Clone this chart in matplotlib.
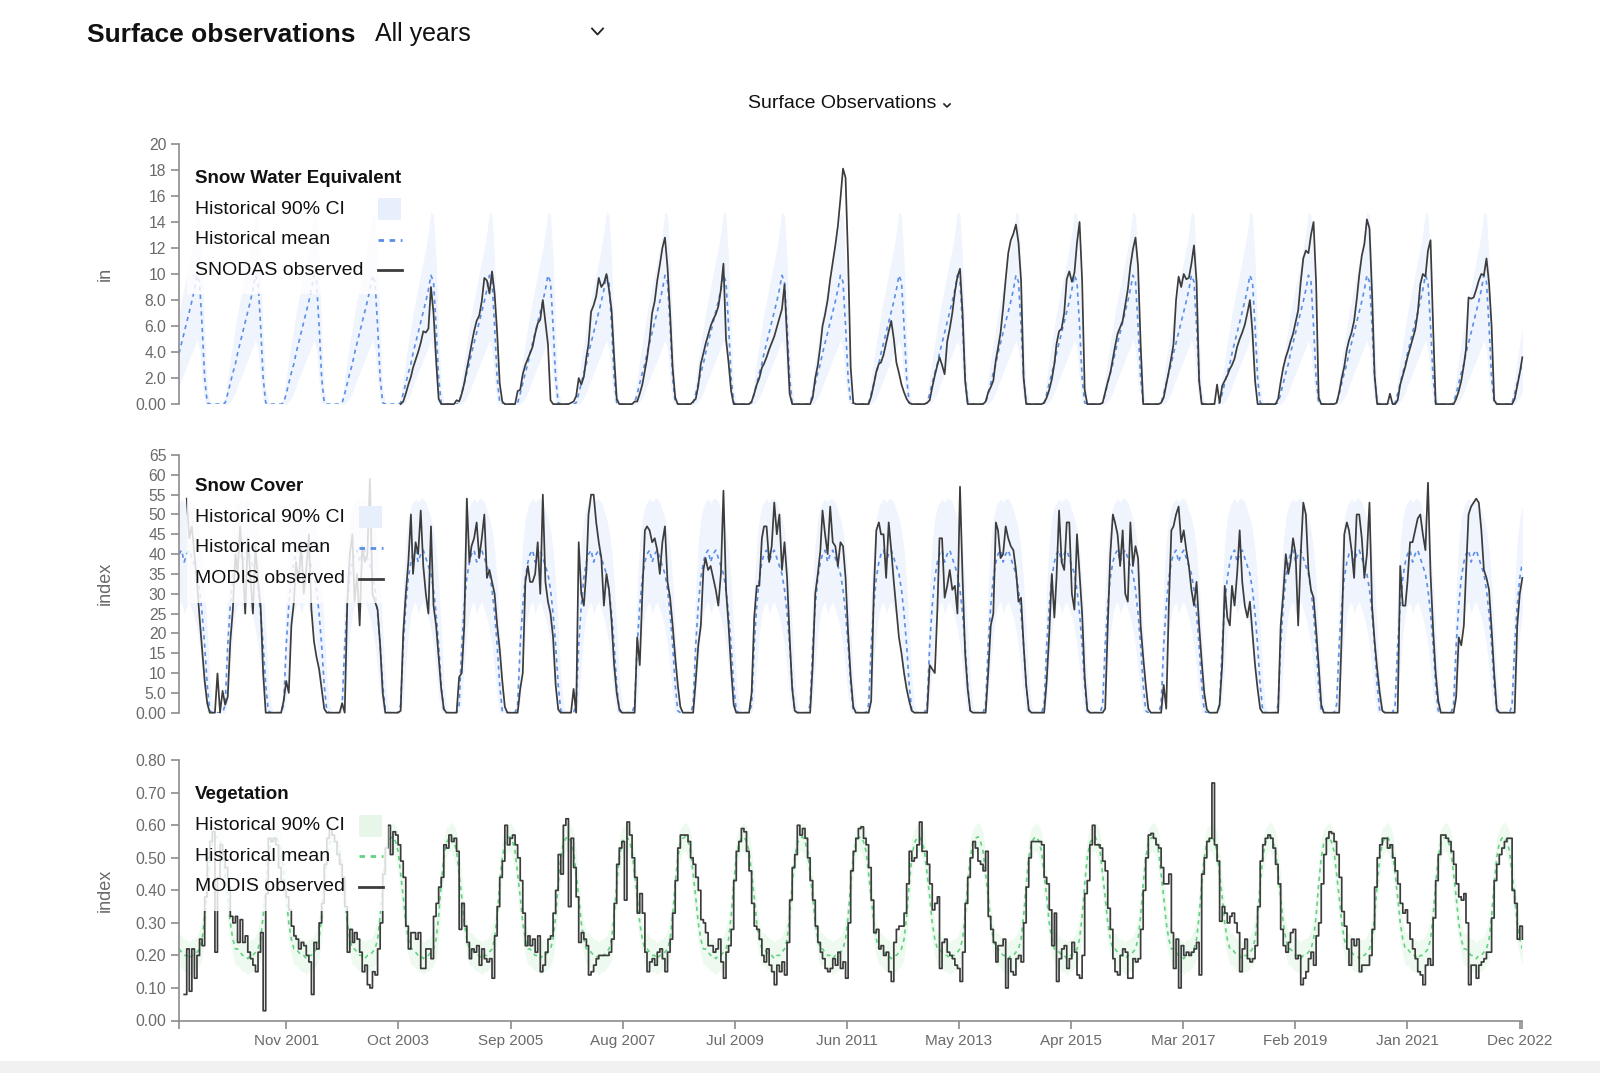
import datetime
import numpy as np
import matplotlib.pyplot as plt
from matplotlib.patches import Rectangle
from matplotlib.lines import Line2D

plt.rcParams['font.family'] = ['Liberation Sans', 'DejaVu Sans']

nan = np.nan

# 16-day composite steps, day of year 1, 17, ..., 353
step_doy = np.arange(0, 365, 16)

# ---- Snow Water Equivalent (in) ----
swe_mean = [3.9, 4.7, 5.5, 6.3, 7.1, 7.9, 8.8, 9.9, 9.4, 6.0, 2.0, 0.1, 0, 0, 0, 0, 0, 0, 0.1, 0.8, 1.6, 2.4, 3.1]
swe_lo = [1.4, 1.9, 2.4, 2.9, 3.4, 3.9, 4.4, 4.9, 4.2, 1.8, 0.2, 0, 0, 0, 0, 0, 0, 0, 0, 0, 0.2, 0.5, 0.9]
swe_hi = [7.0, 8.0, 9.0, 10.0, 11.0, 12.0, 13.2, 14.8, 14.5, 11.0, 5.5, 1.2, 0.2, 0, 0, 0, 0, 0, 0.5, 2.0, 3.4, 4.7, 5.9]

swe_years = list(range(2003, 2023))
swe_obs = [
    [nan] * 18 + [0, 0.2, 0.8, 1.5, 2.1],
    [2.8, 3.4, 4.0, 4.7, 5.6, 5.5, 5.8, 9.0, 7.0, 3.4, 0.4, 0, 0, 0, 0, 0, 0, 0.3, 0.2, 0.8, 1.6, 2.7, 3.7],
    [4.6, 5.6, 6.4, 6.8, 7.9, 9.7, 9.5, 8.5, 10.2, 8.5, 5.5, 1.6, 0.2, 0, 0, 0, 0, 0, 1.0, 1.1, 2.3, 3.0, 3.5],
    [3.9, 4.4, 5.4, 6.2, 6.5, 8.0, 6.3, 4.6, 0.3, 0, 0, 0, 0, 0, 0, 0, 0.1, 0.2, 0.6, 2.0, 1.5, 2.1, 3.6],
    [4.6, 7.1, 7.6, 8.3, 9.7, 9.0, 9.3, 10.0, 8.8, 7.2, 3.6, 0.4, 0, 0, 0, 0, 0, 0, 0.2, 0.2, 0.8, 1.5, 2.6],
    [3.5, 5.0, 7.0, 7.9, 9.5, 10.7, 12.0, 12.8, 10.5, 7.0, 2.8, 0.5, 0, 0, 0, 0, 0, 0, 0.2, 0.4, 1.4, 3.1, 3.9],
    [4.6, 5.3, 6.0, 6.5, 6.9, 7.5, 8.8, 10.8, 5.0, 3.2, 1.0, 0, 0, 0, 0, 0, 0, 0, 0.2, 0.8, 1.5, 2.0, 2.8],
    [3.1, 3.6, 4.2, 4.7, 5.2, 5.9, 6.6, 7.3, 9.2, 5.0, 0.8, 0, 0, 0, 0, 0, 0, 0, 0, 0.5, 2.0, 3.0, 4.5],
    [6.0, 6.9, 8.0, 9.6, 10.9, 12.2, 13.7, 15.8, 18.1, 17.4, 11.0, 2.8, 0.1, 0, 0, 0, 0, 0, 0, 0.6, 1.5, 2.5, 3.1],
    [3.2, 3.8, 4.7, 5.6, 6.4, 5.0, 3.2, 2.4, 1.5, 0.9, 0.4, 0.1, 0, 0, 0, 0, 0, 0, 0.1, 0.3, 1.3, 2.2, 3.0],
    [3.6, 3.0, 2.3, 4.8, 5.8, 7.0, 8.6, 9.8, 10.4, 7.0, 1.8, 0, 0, 0, 0, 0, 0, 0, 0.2, 0.9, 1.3, 1.8, 3.4],
    [4.3, 5.5, 7.4, 9.6, 11.6, 12.6, 13.1, 13.8, 12.4, 9.5, 2.0, 0, 0, 0, 0, 0, 0, 0, 0.1, 0.5, 1.1, 1.9, 3.1],
    [4.6, 5.6, 5.8, 7.0, 9.6, 10.2, 9.4, 10.1, 12.4, 14.0, 9.5, 1.1, 0, 0, 0, 0, 0, 0, 0.1, 0.9, 1.7, 2.4, 3.5],
    [4.4, 5.4, 5.9, 6.4, 7.6, 8.8, 10.6, 11.9, 12.8, 10.6, 4.6, 0, 0, 0, 0, 0, 0, 0, 0.1, 0.5, 1.5, 2.5, 3.6],
    [4.6, 8.0, 9.8, 9.0, 10.0, 9.6, 9.7, 10.8, 12.2, 9.4, 1.8, 0, 0, 0, 0, 0, 0, 1.5, 0.1, 1.4, 1.8, 2.2, 2.7],
    [3.0, 3.5, 4.4, 5.0, 5.5, 6.1, 7.0, 8.0, 5.5, 1.8, 0, 0, 0, 0, 0, 0, 0, 0, 0.4, 1.7, 2.8, 3.6, 4.2],
    [4.8, 5.4, 6.3, 7.2, 9.4, 11.2, 11.8, 11.6, 13.0, 14.0, 9.3, 0.5, 0, 0, 0, 0, 0, 0, 0.1, 0.9, 2.0, 2.9, 4.2],
    [4.9, 5.5, 6.4, 8.0, 9.9, 11.4, 12.3, 14.2, 13.5, 8.5, 2.2, 0, 0, 0, 0, 0, 0.8, 0, 0, 0.3, 1.5, 2.2, 2.9],
    [3.6, 4.3, 5.0, 5.7, 7.0, 9.2, 10.0, 9.8, 11.8, 12.6, 6.0, 0, 0, 0, 0, 0, 0, 0, 0, 0.4, 1.0, 1.8, 3.0],
    [4.2, 8.2, 8.1, 8.2, 8.8, 9.5, 10.0, 9.9, 11.2, 9.3, 6.0, 0.3, 0, 0, 0, 0, 0, 0, 0, 0.4, 1.4, 2.4, 3.6],
]

# ---- Snow Cover (index) ----
cover_mean = [40, 41, 38, 40, 41, 39, 37, 35, 31, 25, 17, 7, 0.5, 0, 0, 0, 0, 0, 2, 17, 27, 34, 38]
cover_lo = [27, 28, 25, 27, 28, 26, 24, 21, 17, 11, 4, 0, 0, 0, 0, 0, 0, 0, 0, 3, 12, 20, 25]
cover_hi = [53, 54, 53, 54, 54, 53, 51, 49, 46, 41, 33, 21, 9, 2, 0, 0, 0, 0.5, 10, 32, 43, 49, 52]

cover_years = list(range(2000, 2023))
cover_obs = [
    [nan, nan, nan, 54, 44, 47, 40, 33, 24, 16, 8, 2.4, 0, 0, 0, 9.9, 0, 5.5, 2, 4, 18, 26, 40],
    [35, 47, 38, 25, 44, 35, 25, 42, 33, 27, 10, 0, 0, 0, 0, 0, 0, 0, 3, 8, 5, 22, 28],
    [38, 33, 42, 30, 36, 45, 26, 18, 14, 11, 6, 1, 0, 0, 0, 0, 0, 0, 2.4, 0, 28, 40, 45],
    [28, 35, 22, 42, 38, 40, 59, 30, 28, 26, 17, 5, 0, 0, 0, 0, 0, 0, 0.5, 20, 30, 38, 50],
    [35, 43, 40, 51, 37, 30, 25, 47, 27, 22, 14, 6, 1, 0, 0, 0, 0, 0, 9, 10, 22, 54, 38],
    [42, 44, 48, 39, 44, 50, 34, 36, 33, 30, 22, 16, 8, 1.5, 0, 0, 0, 0, 0, 6, 10, 33, 37],
    [33, 33, 35, 43, 30, 55, 33, 28, 25, 19, 7, 0.8, 0, 0, 0, 0, 0, 6, 0, 43, 30, 27, 36],
    [50, 55, 55, 48, 43, 39, 27, 35, 31, 23, 12, 5, 1, 0, 0, 0, 0, 0, 0, 19, 12, 30, 46],
    [47, 46, 43, 44, 41, 35, 43, 47, 33, 29, 22, 14, 7, 1.5, 0, 0, 0, 0, 0, 8, 17, 22, 36],
    [39, 36, 37, 34, 31, 27, 35, 56, 31, 22, 11, 2, 0, 0, 0, 0, 0, 0, 5, 24, 32, 32, 44],
    [47, 47, 38, 42, 53, 45, 50, 36, 43, 34, 19, 6, 0.5, 0, 0, 0, 0, 0, 0, 12, 30, 35, 41],
    [51, 45, 40, 52, 43, 42, 37, 43, 42, 34, 20, 9, 1.5, 0, 0, 0, 0, 0, 0, 3, 30, 46, 48],
    [45, 45, 34, 48, 41, 33, 26, 19, 15, 10, 6, 3, 0.5, 0, 0, 0, 0, 0, 0, 12, 11, 10, 26],
    [44, 44, 29, 32, 36, 31, 32, 25, 57, 34, 15, 6, 0.5, 0, 0, 0, 0, 0, 0, 10, 22, 25, 48],
    [46, 39, 40, 47, 44, 42, 41, 36, 28, 29, 17, 7, 0.8, 0, 0, 0, 0, 0, 0, 8, 20, 35, 24],
    [34, 51, 38, 36, 48, 48, 30, 26, 45, 35, 25, 9, 0.8, 0, 0, 0, 0, 0, 0, 1, 22, 40, 50],
    [48, 45, 37, 46, 30, 28, 48, 37, 42, 39, 22, 14, 7, 1, 0, 0, 0, 0, 0, 7, 1, 27, 46],
    [47, 50, 52, 43, 46, 41, 37, 31, 27, 33, 22, 13, 5, 0.8, 0, 0, 0, 0, 2, 12, 32, 24, 22],
    [32, 27, 35, 46, 33, 27, 24, 28, 20, 12, 6, 1, 0, 0, 0, 0, 0, 0, 0, 22, 30, 40, 35],
    [38, 44, 40, 22, 40, 53, 50, 36, 31, 29, 21, 12, 2, 0, 0, 0, 0, 0, 0, 0, 20, 45, 48],
    [46, 41, 34, 50, 50, 44, 34, 40, 53, 27, 18, 11, 5, 0.5, 0, 0, 0, 0, 0, 0, 37, 27, 27],
    [33, 43, 43, 46, 49, 50, 45, 41, 58, 35, 21, 10, 3, 0, 0, 0, 0, 0, 0, 4, 19, 17, 22],
    [35, 50, 52, 53, 54, 53, 46, 36, 34, 31, 21, 10, 1, 0, 0, 0, 0, 0, 0, 0, 22, 30, 34],
]

# ---- Vegetation (index) ----
veg_mean = [0.22, 0.21, 0.20, 0.20, 0.19, 0.20, 0.20, 0.21, 0.22, 0.25, 0.32, 0.42, 0.50, 0.545, 0.56, 0.565, 0.55, 0.52, 0.45, 0.38, 0.30, 0.25, 0.22]
veg_lo = [0.17, 0.16, 0.15, 0.15, 0.14, 0.15, 0.15, 0.16, 0.17, 0.19, 0.25, 0.35, 0.44, 0.50, 0.52, 0.52, 0.50, 0.46, 0.38, 0.31, 0.24, 0.20, 0.17]
veg_hi = [0.27, 0.26, 0.25, 0.25, 0.24, 0.25, 0.25, 0.26, 0.28, 0.32, 0.39, 0.49, 0.56, 0.59, 0.60, 0.61, 0.60, 0.58, 0.52, 0.45, 0.36, 0.30, 0.27]

veg_years = list(range(2000, 2023))
veg_obs = [
    [nan, nan, 0.08, 0.22, 0.09, 0.22, 0.13, 0.20, 0.25, 0.23, 0.38, 0.50, 0.55, 0.58, 0.21, 0.44, 0.54, 0.51, 0.47, 0.41, 0.32, 0.30, 0.32],
    [0.24, 0.31, 0.24, 0.26, 0.21, 0.19, 0.17, 0.15, 0.21, 0.27, 0.03, 0.39, 0.56, 0.55, 0.56, 0.54, 0.47, 0.43, 0.40, 0.38, 0.34, 0.29, 0.26],
    [0.25, 0.22, 0.24, 0.23, 0.20, 0.18, 0.08, 0.24, 0.22, 0.30, 0.36, 0.48, 0.56, 0.59, 0.57, 0.55, 0.51, 0.48, 0.44, 0.35, 0.21, 0.28, 0.24],
    [0.27, 0.25, 0.21, 0.15, 0.17, 0.11, 0.10, 0.15, 0.14, 0.22, 0.30, 0.45, 0.53, 0.60, 0.51, 0.58, 0.57, 0.54, 0.49, 0.44, 0.29, 0.22, 0.27],
    [0.27, 0.25, 0.27, 0.16, 0.16, 0.22, 0.22, 0.19, 0.32, 0.36, 0.41, 0.44, 0.54, 0.53, 0.57, 0.55, 0.56, 0.52, 0.28, 0.36, 0.29, 0.24, 0.19],
    [0.22, 0.21, 0.23, 0.17, 0.22, 0.19, 0.18, 0.19, 0.13, 0.26, 0.35, 0.44, 0.49, 0.60, 0.54, 0.56, 0.57, 0.54, 0.50, 0.43, 0.33, 0.23, 0.26],
    [0.23, 0.25, 0.21, 0.26, 0.15, 0.17, 0.21, 0.25, 0.26, 0.33, 0.40, 0.51, 0.45, 0.60, 0.62, 0.35, 0.56, 0.47, 0.38, 0.24, 0.27, 0.25, 0.23],
    [0.14, 0.15, 0.17, 0.19, 0.20, 0.20, 0.20, 0.20, 0.21, 0.25, 0.36, 0.48, 0.53, 0.55, 0.37, 0.61, 0.57, 0.50, 0.44, 0.33, 0.39, 0.33, 0.21],
    [0.15, 0.18, 0.19, 0.17, 0.21, 0.22, 0.19, 0.15, 0.21, 0.25, 0.33, 0.43, 0.53, 0.57, 0.57, 0.57, 0.55, 0.50, 0.48, 0.44, 0.40, 0.31, 0.30],
    [0.27, 0.23, 0.23, 0.21, 0.22, 0.25, 0.18, 0.13, 0.21, 0.23, 0.28, 0.43, 0.52, 0.55, 0.59, 0.58, 0.52, 0.46, 0.36, 0.29, 0.28, 0.25, 0.20],
    [0.18, 0.22, 0.17, 0.15, 0.11, 0.17, 0.15, 0.18, 0.14, 0.24, 0.37, 0.47, 0.51, 0.60, 0.57, 0.59, 0.56, 0.50, 0.43, 0.37, 0.29, 0.24, 0.21],
    [0.19, 0.16, 0.15, 0.16, 0.19, 0.17, 0.21, 0.16, 0.18, 0.13, 0.30, 0.46, 0.52, 0.56, 0.59, 0.595, 0.56, 0.54, 0.47, 0.37, 0.27, 0.28, 0.22],
    [0.23, 0.20, 0.21, 0.15, 0.12, 0.24, 0.28, 0.29, 0.29, 0.33, 0.42, 0.52, 0.49, 0.50, 0.54, 0.61, 0.52, 0.52, 0.48, 0.42, 0.34, 0.36, 0.38],
    [0.16, 0.24, 0.25, 0.21, 0.20, 0.19, 0.17, 0.16, 0.12, 0.21, 0.36, 0.44, 0.50, 0.55, 0.53, 0.49, 0.48, 0.46, 0.52, 0.32, 0.28, 0.24, 0.18],
    [0.23, 0.23, 0.25, 0.10, 0.19, 0.15, 0.14, 0.19, 0.20, 0.18, 0.30, 0.41, 0.50, 0.55, 0.55, 0.55, 0.55, 0.54, 0.44, 0.42, 0.34, 0.23, 0.33],
    [0.12, 0.19, 0.22, 0.23, 0.16, 0.19, 0.24, 0.21, 0.14, 0.13, 0.20, 0.39, 0.43, 0.54, 0.60, 0.54, 0.54, 0.53, 0.49, 0.46, 0.345, 0.28, 0.19],
    [0.15, 0.14, 0.20, 0.22, 0.21, 0.13, 0.13, 0.19, 0.18, 0.19, 0.28, 0.40, 0.50, 0.57, 0.575, 0.56, 0.54, 0.53, 0.47, 0.42, 0.42, 0.45, 0.27],
    [0.16, 0.25, 0.10, 0.23, 0.20, 0.21, 0.20, 0.21, 0.22, 0.24, 0.14, 0.45, 0.50, 0.55, 0.56, 0.73, 0.54, 0.49, 0.305, 0.35, 0.33, 0.30, 0.32],
    [0.33, 0.30, 0.27, 0.15, 0.22, 0.25, 0.19, 0.18, 0.19, 0.23, 0.35, 0.49, 0.54, 0.56, 0.57, 0.56, 0.53, 0.48, 0.42, 0.28, 0.23, 0.21, 0.24],
    [0.27, 0.28, 0.19, 0.20, 0.11, 0.13, 0.15, 0.19, 0.21, 0.17, 0.26, 0.30, 0.42, 0.51, 0.56, 0.58, 0.575, 0.55, 0.51, 0.44, 0.335, 0.29, 0.22],
    [0.17, 0.25, 0.23, 0.25, 0.15, 0.17, 0.17, 0.17, 0.20, 0.28, 0.41, 0.50, 0.54, 0.56, 0.56, 0.53, 0.54, 0.50, 0.46, 0.42, 0.36, 0.33, 0.34],
    [0.30, 0.25, 0.22, 0.19, 0.15, 0.14, 0.11, 0.17, 0.19, 0.17, 0.315, 0.43, 0.51, 0.57, 0.57, 0.56, 0.55, 0.52, 0.48, 0.42, 0.38, 0.37, 0.39],
    [0.30, 0.11, 0.17, 0.17, 0.13, 0.17, 0.18, 0.19, 0.21, 0.21, 0.315, 0.43, 0.48, 0.51, 0.53, 0.55, 0.56, 0.56, 0.40, 0.36, 0.25, 0.29, 0.25],
]

clim_years = list(range(2000, 2023))

x_labels = ["Nov 2001", "Oct 2003", "Sep 2005", "Aug 2007", "Jul 2009", "Jun 2011",
            "May 2013", "Apr 2015", "Mar 2017", "Feb 2019", "Jan 2021", "Dec 2022"]

swe_ticks = [0, 2, 4, 6, 8, 10, 12, 14, 16, 18, 20]
swe_tick_labels = ["0.00", "2.0", "4.0", "6.0", "8.0", "10", "12", "14", "16", "18", "20"]
cover_ticks = list(range(0, 66, 5))
cover_tick_labels = ["0.00", "5.0", "10", "15", "20", "25", "30", "35", "40", "45", "50", "55", "60", "65"]
veg_ticks = [0, 0.1, 0.2, 0.3, 0.4, 0.5, 0.6, 0.7, 0.8]
veg_tick_labels = ["0.00", "0.10", "0.20", "0.30", "0.40", "0.50", "0.60", "0.70", "0.80"]

legend_labels = ['Historical 90% CI', 'Historical mean']


def to_series(years, rows):
    t = np.concatenate([y + step_doy / 365.25 for y in years])
    v = np.concatenate([np.asarray(r, dtype=float) for r in rows])
    return t, v


def clim_series(vals):
    return to_series(clim_years, [vals] * len(clim_years))


W, H = 1600, 1073
x_start, x_end = 1999.995, 2022.956
AX_L, AX_R = 178.75, 1521.9
OBS = '#3c3c3c'
GRAY = '#8c8c8c'
LABEL = '#6a6a6a'

fig = plt.figure(figsize=(16, 10.73), dpi=100)


def fx(x):
    return x / W


def fy(y):
    return 1 - y / H


def make_ax(top, bottom):
    return fig.add_axes([AX_L / W, 1 - bottom / H, (AX_R - AX_L) / W, (bottom - top) / H])


def style(ax, ticks, tick_labels, ylabel):
    ax.set_xlim(x_start, x_end)
    ax.set_ylim(ticks[0], ticks[-1])
    for s in ['top', 'right', 'bottom']:
        ax.spines[s].set_visible(False)
    ax.spines['left'].set_color(GRAY)
    ax.spines['left'].set_linewidth(1.2)
    ax.set_yticks(ticks)
    ax.set_yticklabels(tick_labels)
    ax.tick_params(axis='y', length=6, width=1.2, color=GRAY, labelcolor=LABEL,
                   labelsize=11.3, pad=3)
    ax.set_xticks([])
    ax.set_ylabel(ylabel, fontsize=13, color=LABEL, va='center')
    ax.yaxis.set_label_coords((105 - AX_L) / (AX_R - AX_L), 0.5)
    ax.patch.set_alpha(0)


def draw_panel(ax, lo, hi, mean, obs_years, obs_rows, band_col, mean_col, steps=False):
    t, v_lo = clim_series(lo)
    _, v_hi = clim_series(hi)
    _, v_mean = clim_series(mean)
    ax.fill_between(t, v_lo, v_hi, color=band_col, lw=0, zorder=1)
    ax.plot(t, v_mean, color=mean_col, lw=1.2, ls=(0, (2.5, 2.5)), zorder=2)
    to, vo = to_series(obs_years, obs_rows)
    ax.plot(to, vo, color=OBS, lw=1.25, zorder=3, clip_on=False,
            drawstyle='steps-post' if steps else 'default')


def draw_legend(title, obs_label, ys, hx, box_right, band_col, mean_col):
    # white translucent box, then title, labels and swatches on the right
    top, bottom = ys[0] - 17, ys[-1] + 24
    fig.add_artist(Rectangle((fx(187), fy(bottom)), (box_right - 187) / W, (bottom - top) / H,
                             transform=fig.transFigure, facecolor='white', alpha=0.82,
                             edgecolor='none', zorder=4))
    fig.text(fx(195), fy(ys[0]), title, fontsize=13.5, fontweight='bold', color='#111111',
             ha='left', va='center', zorder=5)
    for lab, y in zip(legend_labels + [obs_label], ys[1:]):
        fig.text(fx(195), fy(y), lab, fontsize=14, color='#111111', ha='left',
                 va='center', zorder=5)
    fig.add_artist(Rectangle((fx(hx), fy(ys[1] + 11)), 23 / W, 22 / H,
                             transform=fig.transFigure, facecolor=band_col,
                             edgecolor='none', zorder=5))
    fig.add_artist(Line2D([fx(hx), fx(hx + 24)], [fy(ys[2]), fy(ys[2])], color=mean_col,
                          lw=2.0, ls=(0, (2, 2)), zorder=5))
    fig.add_artist(Line2D([fx(hx), fx(hx + 24)], [fy(ys[3]), fy(ys[3])], color=OBS,
                          lw=2.0, zorder=5))


BLUE_BAND = '#eff4fd'
BLUE = '#5b8ee6'
GREEN_BAND = '#eefaf0'
GREEN = '#62d283'

ax1 = make_ax(143.9, 404.1)
ax2 = make_ax(455.0, 712.7)
ax3 = make_ax(760.2, 1020.5)

style(ax1, swe_ticks, swe_tick_labels, 'in')
style(ax2, cover_ticks, cover_tick_labels, 'index')
style(ax3, veg_ticks, veg_tick_labels, 'index')

draw_panel(ax1, swe_lo, swe_hi, swe_mean, swe_years, swe_obs, BLUE_BAND, BLUE)
draw_panel(ax2, cover_lo, cover_hi, cover_mean, cover_years, cover_obs, BLUE_BAND, BLUE)
draw_panel(ax3, veg_lo, veg_hi, veg_mean, veg_years, veg_obs, GREEN_BAND, GREEN, steps=True)

draw_legend('Snow Water Equivalent', 'SNODAS observed', [178.5, 209.2, 239.8, 270.4],
            378, 408, '#e8effc', BLUE)
draw_legend('Snow Cover', 'MODIS observed', [486.7, 517.3, 547.9, 578.5],
            359, 388, '#e8effc', BLUE)
draw_legend('Vegetation', 'MODIS observed', [794.9, 825.5, 856.1, 886.7],
            359, 388, '#e6f7ea', GREEN)

# x axis on the bottom panel
dates = [datetime.datetime.strptime(s, '%b %Y') for s in x_labels]
tick_pos = [d.year + (d.month - 1) / 12 for d in dates]
ax3.spines['bottom'].set_visible(True)
ax3.spines['bottom'].set_color(GRAY)
ax3.spines['bottom'].set_linewidth(1.2)
ax3.set_xticks(tick_pos)
ax3.set_xticklabels(x_labels)
ax3.set_xticks([x_start, x_end], minor=True)
ax3.tick_params(axis='x', which='both', length=6, width=1.2, color=GRAY,
                labelcolor=LABEL, labelsize=11, pad=4)

# header
fig.text(fx(87), fy(35), 'Surface observations', fontsize=19, fontweight='bold',
         color='#111111', ha='left', va='center')
fig.text(fx(375), fy(33.5), 'All years', fontsize=18, color='#111111',
         ha='left', va='center')
fig.add_artist(Line2D([fx(592), fx(597.5), fx(603)], [fy(28.5), fy(34.5), fy(28.5)],
                      color='#222222', lw=1.3))
fig.text(fx(842), fy(103), 'Surface Observations', fontsize=14, color='#111111',
         ha='center', va='center')
fig.add_artist(Line2D([fx(944), fx(947), fx(950)], [fy(104), fy(107), fy(104)],
                      color='#222222', lw=1.2))

# bottom gray strip
fig.add_artist(Rectangle((0, 0), 1, 12 / H, transform=fig.transFigure,
                         facecolor='#f1f1f1', edgecolor='none'))

fig.savefig('out.png', dpi=100)
